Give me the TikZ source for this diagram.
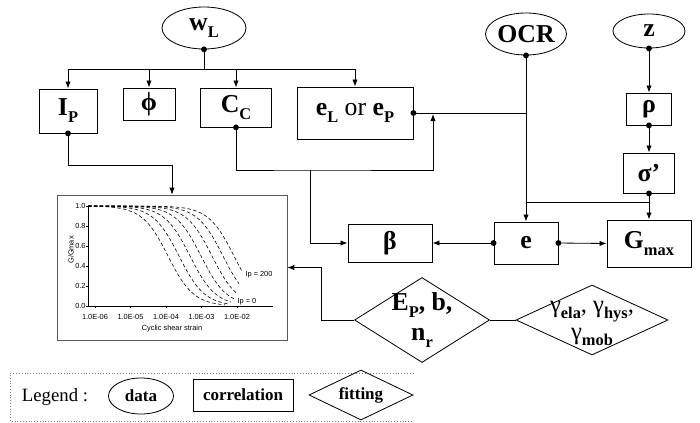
\documentclass[tikz,border=0pt]{standalone}
\usepackage{fontspec}
\setmainfont{Liberation Serif}
\newfontfamily\plotfont{Liberation Sans}
\usetikzlibrary{shapes.geometric,arrows.meta}

\newcommand\bigbf{\fontsize{22}{25}\selectfont\bfseries}
\newcommand\legbf{\fontsize{14.5}{17}\selectfont\bfseries}
\newcommand\sub[1]{\raisebox{-0.6ex}{\fontsize{14}{14}\selectfont#1}}
\tikzset{
  wire/.style={line width=0.7pt},
  arr/.style={wire, -{Latex[length=6pt,width=4.5pt]}},
  datanode/.style={ellipse, draw, line width=0.7pt, inner sep=0pt, font=\bigbf},
  corrbox/.style={rectangle, draw, line width=0.7pt, inner sep=0pt, font=\bigbf},
  fitdiamond/.style={diamond, draw, line width=0.7pt, inner sep=0pt},
  plotlbl/.style={font=\plotfont\fontsize{6.3}{7}\selectfont, inner sep=1pt},
}

\begin{document}
\begin{tikzpicture}[x=0.03cm, y=-0.03cm]
  \useasboundingbox (0,0) rectangle (700,423);

  % Data
  \node[datanode, minimum width=2.52cm, minimum height=1.26cm] (wL) at (204,28) {w\sub{L}};
  \node[datanode, minimum width=2.22cm, minimum height=1.26cm] (OCR) at (526,34) {OCR};
  \node[datanode, minimum width=2.16cm, minimum height=1.02cm] (z) at (649,31) {z};

  % Correlations
  \node[corrbox, minimum width=1.74cm, minimum height=1.32cm] (Ip) at (68,111) {I\sub{P}};
  \node[corrbox, minimum width=1.56cm, minimum height=0.96cm] (phi) at (149,104) {ϕ};
  \node[corrbox, minimum width=2.13cm, minimum height=1.17cm] (Cc) at (236,107.5) {C\sub{C}};
  \node[corrbox, minimum width=3.48cm, minimum height=1.56cm] (eL) at (355,113) {e\sub{L} \mdseries or \bfseries e\sub{P}};
  \node[corrbox, minimum width=1.35cm, minimum height=0.96cm] (rho) at (649,109) {ρ};
  \node[corrbox, minimum width=1.53cm, minimum height=1.2cm] (sigma) at (649,173) {σ’};
  \node[corrbox, minimum width=2.52cm, minimum height=1.14cm] (beta) at (390,243) {β};
  \node[corrbox, minimum width=1.92cm, minimum height=1.26cm] (e) at (526,243) {e};
  \node[corrbox, minimum width=2.52cm, minimum height=1.41cm] (Gmax) at (649,243.5) {G\sub{max}};

  % Fitting
  \node[fitdiamond, minimum width=4.05cm, minimum height=2.55cm,
    label={[align=center, font=\bigbf]center:{E\sub{P}, b,\\n\sub{r}}}] (d1) at (422,320) {};
  \node[fitdiamond, minimum width=4.56cm, minimum height=2.1cm,
    label={[align=center, font=\fontsize{21}{23}\selectfont, yshift=-3pt]center:{γ\sub{\bfseries ela}, γ\sub{\bfseries hys},\\γ\sub{\bfseries mob}}}] (d2) at (592,320) {};

  % G/Gmax curves
  \node[draw, black!65, line width=0.5pt, minimum width=6.9cm, minimum height=4.35cm, inner sep=0pt] (plot) at (172,267.5) {};
  \draw[line width=0.5pt] (88,206) -- (88,306) -- (273,306);
  \foreach \v in {0.0,0.2,0.4,0.6,0.8,1.0} {
    \draw[line width=0.4pt] (86,{306-100*\v}) -- (88,{306-100*\v});
    \node[plotlbl, anchor=east] at (87,{306-100*\v}) {\v};
  }
  \foreach \k/\t in {0/06,1/05,2/04,3/03,4/02} {
    \draw[line width=0.4pt] ({95+35.5*\k},306) -- ({95+35.5*\k},308);
    \node[plotlbl] at ({95+35.5*\k},317) {1.0E-\t};
  }
  \node[plotlbl] at (172,329) {Cyclic shear strain};
  \node[plotlbl, rotate=90] at (71,250) {G/Gmax};
  \foreach \h/\e in {168/225,179/228,190/231,201/234,212/236,223/239,234/242}
    \draw[densely dashed, line width=0.5pt] plot[domain=88:\e, samples=60, smooth]
      (\x, {306-100/(1+pow(10,1.2*(\x-\h)/35.5))});
  \node[plotlbl] at (259,275) {Ip = 200};
  \node[plotlbl] at (247,302) {Ip = 0};

  % Connectors
  \coordinate (bus) at (204,69);
  \draw[wire] (wL.south) -- (bus);
  \draw[wire] (Ip.north |- bus) -- (eL.north |- bus);
  \foreach \n in {Ip,phi,Cc,eL}
    \draw[arr] (\n.north |- bus) -- (\n.north);
  \draw[arr] (Ip.south) -- ++(0,32) -| (plot.north);

  \coordinate (tap) at (433,114);
  \coordinate (split) at (310,170);
  \draw[arr] (Cc.south) |- (split) -| (tap);
  \draw[arr] (split) |- (beta.west);

  \draw[wire] (eL.east) -- (eL.east -| OCR.south);
  \draw[arr] (OCR.south) -- (e.north);

  \coordinate (sjoin) at (649,202);
  \draw[arr] (z.south) -- (rho.north);
  \draw[arr] (rho.south) -- (sigma.north);
  \draw[arr] (sigma.south) -- (Gmax.north);
  \draw[wire] (sjoin) -- (sjoin -| OCR.south);

  \draw[arr] (e.west) -- (beta.east);
  \draw[arr] (e.east) -- (Gmax.west);

  \draw[arr] (d1.west) -- ++(-33,0) |- (plot.east);
  \draw[wire] (d1.east) -- (d2.west);

  \foreach \p in {wL.south,Ip.south,Cc.south,eL.east,OCR.south,z.south,rho.south,sigma.south,e.west,e.east}
    \fill (\p) circle (2.5pt);

  % Legend
  \draw[gray, dotted] (413,373) -- (10,373) -- (10,421) -- (413,421);
  \node[font=\fontsize{16}{18}\selectfont] (legend) at (55,397) {Legend :};
  \node[datanode, font=\legbf, minimum width=1.95cm, minimum height=1.08cm] (ldata) at (141,396) {data};
  \node[corrbox, font=\legbf, minimum width=3.0cm, minimum height=0.96cm] (lcorr) at (243,395) {correlation};
  \node[fitdiamond, font=\legbf, aspect=2, minimum width=3.12cm, minimum height=1.5cm] (lfit) at (361,395) {fitting};
\end{tikzpicture}
\end{document}
